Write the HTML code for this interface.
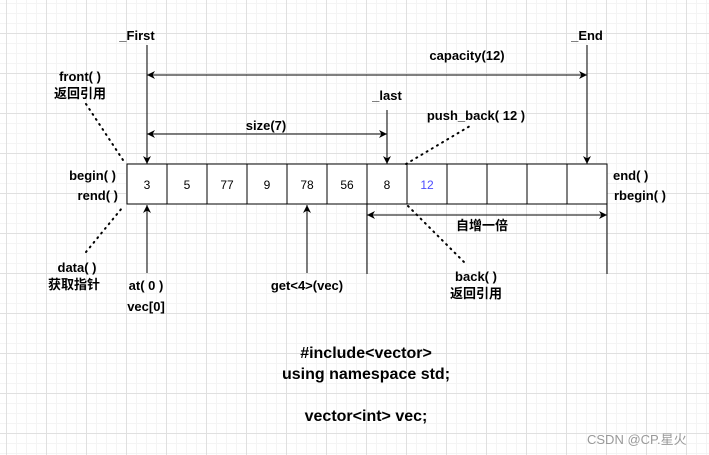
<!DOCTYPE html>
<html><head><meta charset="utf-8"><style>
html,body{margin:0;padding:0;}
body{width:709px;height:455px;overflow:hidden;background:#fff;
background-image:
linear-gradient(#e0e0e0 1px,transparent 1px),
linear-gradient(90deg,#e0e0e0 1px,transparent 1px),
linear-gradient(#f4f4f4 1px,transparent 1px),
linear-gradient(90deg,#f4f4f4 1px,transparent 1px);
background-size:40px 40px,40px 40px,10px 10px,10px 10px;
background-position:0 33px,6px 0,0 3px,6px 0;}
svg{position:absolute;left:0;top:0;}
text{font-family:"Liberation Sans","Noto Sans CJK SC",sans-serif;font-weight:bold;font-size:13px;fill:#000;}
.c{font-weight:normal;font-size:12px;}
</style></head><body>
<svg width="709" height="455" xmlns="http://www.w3.org/2000/svg">
<defs>
<marker id="a" viewBox="0 0 10 10" refX="10" refY="5" markerWidth="8" markerHeight="8" orient="auto-start-reverse" markerUnits="userSpaceOnUse">
<path d="M0,0 L10,5 L0,10 L3,5 z" fill="#000"/></marker>
</defs>
<g stroke="#000" stroke-width="1" fill="none">
<rect x="127" y="164" width="480" height="40" fill="#fff"/>
<path d="M167 164v40M207 164v40M247 164v40M287 164v40M327 164v40M367 164v40M407 164v40M447 164v40M487 164v40M527 164v40M567 164v40"/>
<line x1="147" y1="45" x2="147" y2="164" marker-end="url(#a)"/>
<line x1="587" y1="45" x2="587" y2="164" marker-end="url(#a)"/>
<line x1="387" y1="110" x2="387" y2="164" marker-end="url(#a)"/>
<line x1="147" y1="75" x2="587" y2="75" marker-start="url(#a)" marker-end="url(#a)"/>
<line x1="147" y1="134" x2="387" y2="134" marker-start="url(#a)" marker-end="url(#a)"/>
<line x1="147" y1="273" x2="147" y2="205" marker-end="url(#a)"/>
<line x1="307" y1="273" x2="307" y2="205" marker-end="url(#a)"/>
<line x1="367" y1="204" x2="367" y2="274"/>
<line x1="607" y1="204" x2="607" y2="274"/>
<line x1="367" y1="215" x2="607" y2="215" marker-start="url(#a)" marker-end="url(#a)"/>
<g stroke-width="2" stroke-dasharray="1 5" stroke-linecap="round">
<line x1="86" y1="104" x2="123" y2="160"/>
<line x1="86" y1="252" x2="122" y2="208"/>
<line x1="406" y1="164" x2="470" y2="126"/>
<line x1="408" y1="206" x2="466" y2="264"/>
</g>
</g>
<g text-anchor="middle">
<text x="137" y="40">_First</text>
<text x="587" y="40">_End</text>
<text x="467" y="60">capacity(12)</text>
<text x="266" y="130">size(7)</text>
<text x="387" y="100">_last</text>
<text x="476" y="120">push_back( 12 )</text>
<text x="80" y="81">front( )</text>
<text x="80" y="98">返回引用</text>
<text x="77" y="272">data( )</text>
<text x="74" y="289">获取指针</text>
<text x="146" y="290">at( 0 )</text>
<text x="146" y="311">vec[0]</text>
<text x="307" y="290">get&lt;4&gt;(vec)</text>
<text x="482" y="230">自增一倍</text>
<text x="476" y="281">back( )</text>
<text x="476" y="298">返回引用</text>
<text class="c" x="147" y="189">3</text>
<text class="c" x="187" y="189">5</text>
<text class="c" x="227" y="189">77</text>
<text class="c" x="267" y="189">9</text>
<text class="c" x="307" y="189">78</text>
<text class="c" x="347" y="189">56</text>
<text class="c" x="387" y="189">8</text>
<text class="c" x="427" y="189" style="fill:#4c4cff">12</text>
<text x="366" y="358" style="font-size:16px">#include&lt;vector&gt;</text>
<text x="366" y="379" style="font-size:16px">using namespace std;</text>
<text x="366" y="421" style="font-size:16px">vector&lt;int&gt; vec;</text>
</g>
<g text-anchor="end">
<text x="116" y="180">begin( )</text>
<text x="118" y="200">rend( )</text>
</g>
<text x="613" y="180">end( )</text>
<text x="614" y="200">rbegin( )</text>
<text x="587" y="444" style="font-weight:normal;font-size:13px;fill:#999">CSDN @CP.星火</text>
</svg>
</body></html>
